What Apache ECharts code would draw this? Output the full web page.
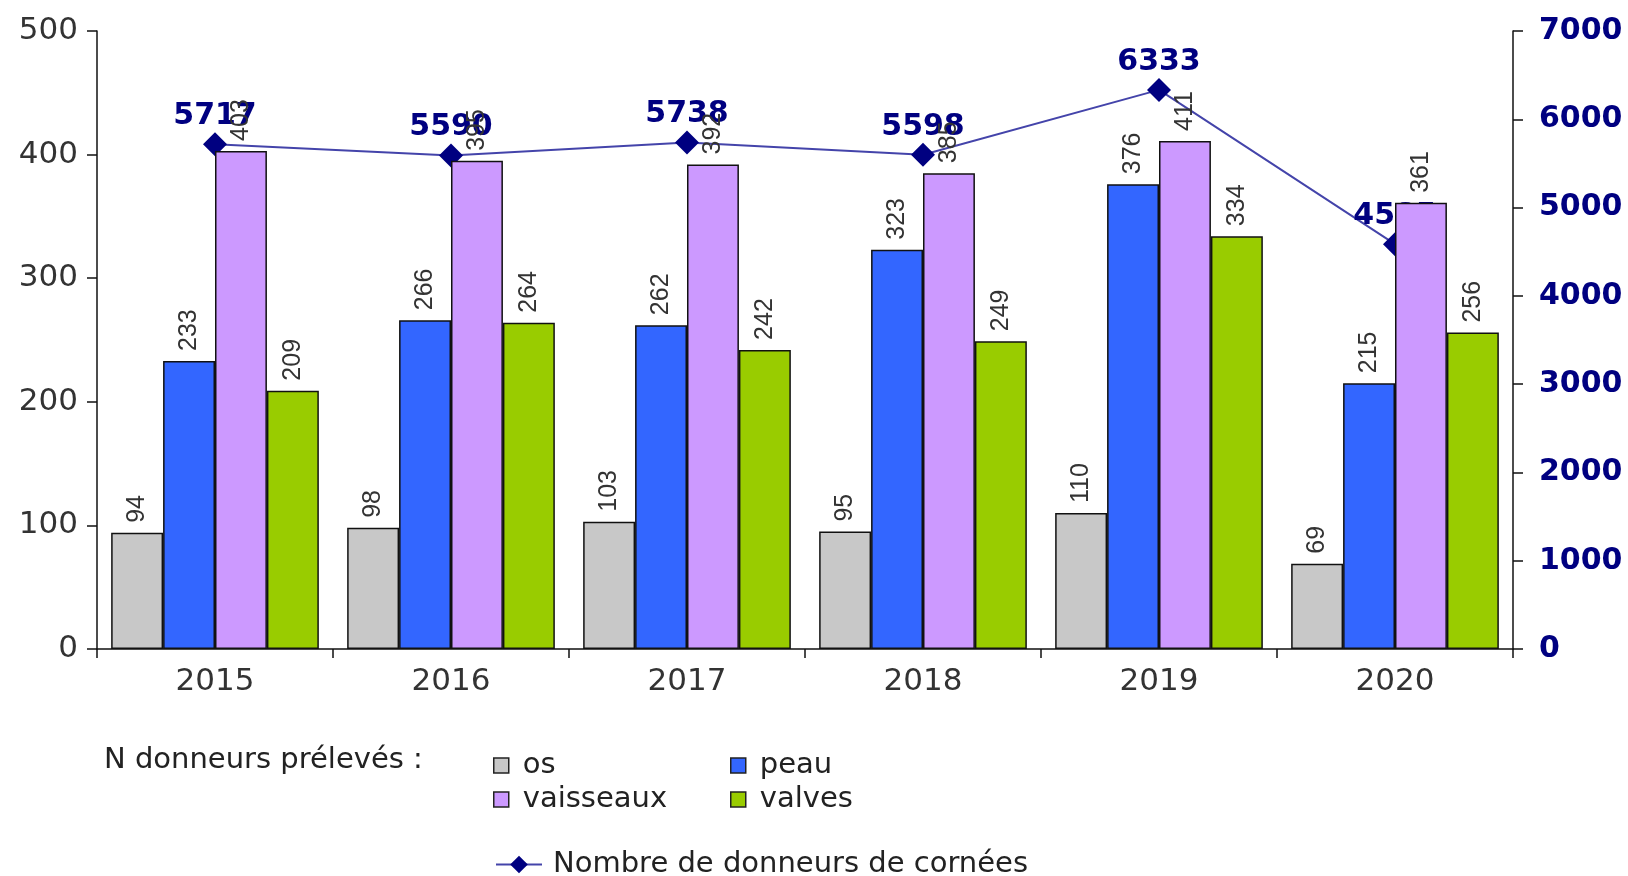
<!DOCTYPE html>
<html lang="fr">
<head>
    <meta charset="UTF-8" />
    <title>Donneurs prélevés</title>
    <script src="https://cdn.jsdelivr.net/npm/echarts@6/dist/echarts.min.js"></script>
    <style>
        html, body { margin: 0; padding: 0; background: #fff; }
        #main { width: 1628px; height: 876px; }
    </style>
</head>
<body>
<div id="main"></div>
<script>
    var years = ['2015', '2016', '2017', '2018', '2019', '2020'];
    var os = [94, 98, 103, 95, 110, 69];
    var peau = [233, 266, 262, 323, 376, 215];
    var vaisseaux = [403, 395, 392, 385, 411, 361];
    var valves = [209, 264, 242, 249, 334, 256];
    var cornees = [5717, 5590, 5738, 5598, 6333, 4585];

    var font = '"DejaVu Sans", sans-serif';
    var narrow = '"Liberation Sans", Arial, sans-serif';
    var navy = '#000080';

    var barLabel = {
        show: true,
        position: 'top',
        rotate: 90,
        align: 'left',
        verticalAlign: 'middle',
        distance: 10,
        color: '#333',
        fontSize: 25,
        fontFamily: narrow
    };

    function bar(name, data, color) {
        return {
            name: name,
            type: 'bar',
            data: data,
            z: 3,
            barGap: '0%',
            barCategoryGap: '12%',
            itemStyle: { color: color, borderColor: '#111', borderWidth: 1.5 },
            label: barLabel
        };
    }

    function legendAt(name, left, top) {
        return {
            data: [name],
            left: left,
            top: top,
            icon: 'rect',
            itemWidth: 15,
            itemHeight: 15,
            textStyle: { fontSize: 29, color: '#222', fontFamily: font, padding: [0, 0, 0, 9] },
            itemStyle: { borderColor: '#222', borderWidth: 1.5 }
        };
    }

    var myChart = echarts.init(document.getElementById('main'));
    var option = {
        animation: false,
        textStyle: { fontFamily: font },
        grid: { left: 97, right: 115, top: 31, bottom: 227 },
        legend: [
            legendAt('os', 488, 746),
            legendAt('peau', 725, 746),
            legendAt('vaisseaux', 488, 780),
            legendAt('valves', 725, 780),
            {
                data: ['Nombre de donneurs de cornées'],
                left: 490,
                top: 845,
                itemWidth: 46,
                itemHeight: 22,
                textStyle: { fontSize: 29, color: '#222', fontFamily: font, padding: [0, 0, 0, 6] }
            }
        ],
        graphic: [{
            type: 'text',
            left: 104,
            top: 746,
            style: { text: 'N donneurs prélevés :', fontSize: 29, fill: '#222', fontFamily: font }
        }],
        xAxis: {
            type: 'category',
            data: years,
            axisLine: { lineStyle: { color: '#111', width: 1.5 } },
            axisTick: { show: true, length: 9, lineStyle: { color: '#111', width: 1.5 } },
            axisLabel: { fontSize: 31, color: '#333', margin: 17, fontFamily: font }
        },
        yAxis: [{
            type: 'value',
            min: 0,
            max: 500,
            interval: 100,
            splitLine: { show: false },
            axisLine: { show: true, lineStyle: { color: '#111', width: 1.5 } },
            axisTick: { show: true, length: 10, lineStyle: { color: '#111', width: 1.5 } },
            axisLabel: { fontSize: 31, color: '#333', margin: 19, fontFamily: font }
        }, {
            type: 'value',
            min: 0,
            max: 7000,
            interval: 1000,
            splitLine: { show: false },
            axisLine: { show: true, lineStyle: { color: '#111', width: 1.5 } },
            axisTick: { show: true, length: 10, lineStyle: { color: '#111', width: 1.5 } },
            axisLabel: {
                fontSize: 30, color: navy, fontWeight: 'bold', margin: 26, fontFamily: font,
                formatter: function (v) { return String(v); }
            }
        }],
        series: [
            bar('os', os, '#c8c8c8'),
            bar('peau', peau, '#3366ff'),
            bar('vaisseaux', vaisseaux, '#cc99ff'),
            bar('valves', valves, '#99cc00'),
            {
                name: 'Nombre de donneurs de cornées',
                type: 'line',
                yAxisIndex: 1,
                data: cornees,
                z: 2,
                symbol: 'diamond',
                symbolSize: 24,
                lineStyle: { color: '#4444aa', width: 2 },
                itemStyle: { color: navy },
                label: {
                    show: true,
                    position: 'top',
                    distance: 1,
                    color: navy,
                    fontSize: 30,
                    fontWeight: 'bold',
                    fontFamily: font
                }
            }
        ]
    };
    myChart.setOption(option);
</script>
</body>
</html>
